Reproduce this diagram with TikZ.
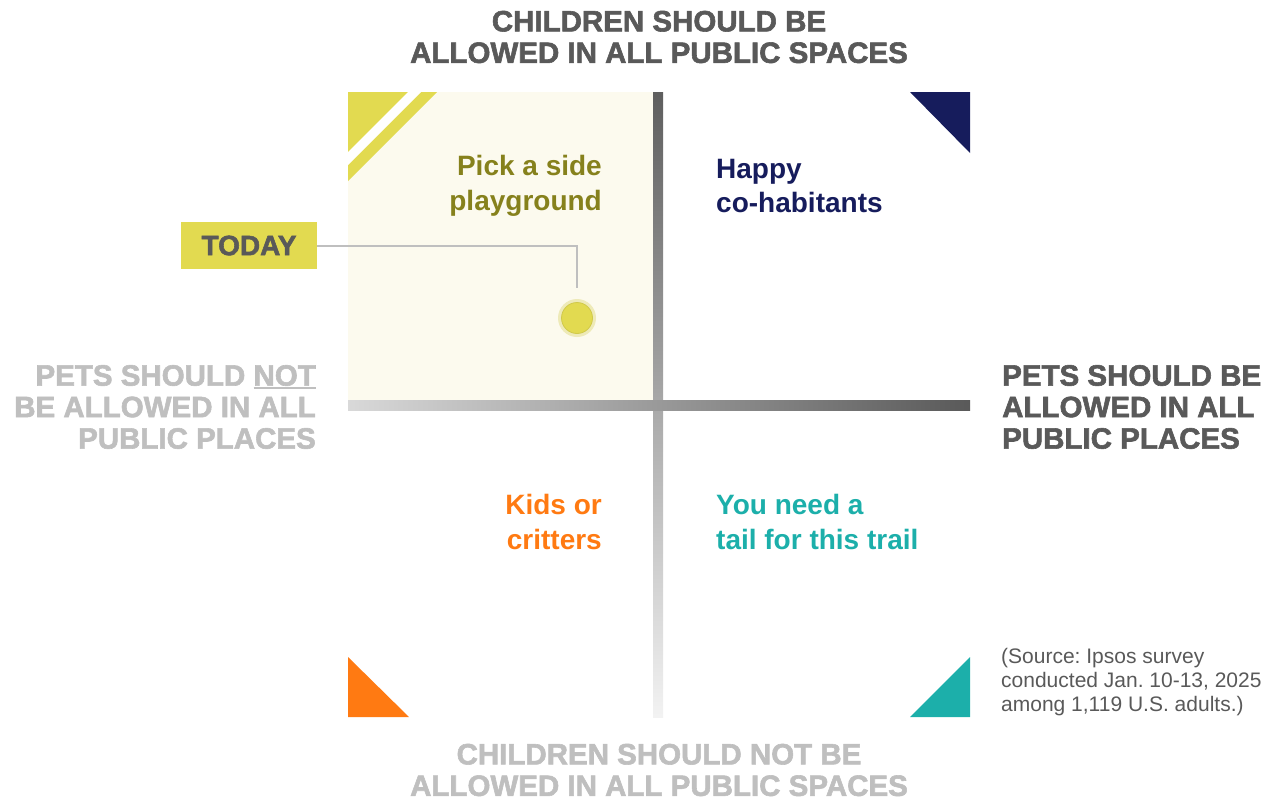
\documentclass[tikz,border=0pt]{standalone}
\usepackage{fontspec}
\setmainfont{Liberation Sans}
\newfontfamily\heavyfont{Liberation Sans Bold}[FakeBold=2]
\definecolor{txtdark}{HTML}{595959}
\definecolor{txtlight}{HTML}{BFBFBF}
\definecolor{cream}{HTML}{FCFAEE}
\definecolor{lemon}{HTML}{E2DA50}
\definecolor{lemonhalo}{HTML}{EEEAB8}
\definecolor{olive}{HTML}{86811C}
\definecolor{navy}{HTML}{161C5C}
\definecolor{tangerine}{HTML}{FF7A12}
\definecolor{teal}{HTML}{1CAFAA}
% underline with a heavier rule
\newcommand\heavyul[1]{\leavevmode\setbox0\hbox{#1}\rlap{\raisebox{-3.5pt}{\rule{\wd0}{2pt}}}\box0}
\begin{document}
\begin{tikzpicture}[x=1pt,y=-1pt,
  axislabel/.style={font=\heavyfont\fontsize{29.5}{31.5}\selectfont, inner sep=0},
  quadlabel/.style={font=\bfseries\fontsize{28}{34.5}\selectfont, inner sep=0}]
\useasboundingbox (0,0) rectangle (1269,798);

% highlighted quadrant
\fill[cream] (348,92) rectangle (653,400);

% axes
\shade[top color=black!63, middle color=black!20, bottom color=black!5] (653,92) rectangle (663,717);
\shade[left color=black!15, middle color=black!31, right color=black!65] (348,400) rectangle (970,410);

% corner markers
\fill[lemon] (348,92) -- (437,92) -- (348,181) -- cycle;
\fill[white] (408,92) -- (421,92) -- (348,165) -- (348,152) -- cycle;
\fill[navy] (910,92) -- (970,92) -- (970,153) -- cycle;
\fill[tangerine] (348,657) -- (409,717) -- (348,717) -- cycle;
\fill[teal] (970,657) -- (970,717) -- (910,717) -- cycle;

% axis labels
\node[axislabel, text=txtdark, align=center] (top) at (659,37) {CHILDREN SHOULD BE\\ALLOWED IN ALL PUBLIC SPACES};
\node[axislabel, text=txtlight, align=center] (bottom) at (659,770) {CHILDREN SHOULD NOT BE\\ALLOWED IN ALL PUBLIC SPACES};
\node[axislabel, text=txtdark, align=left, anchor=west] (right) at (1002,407) {PETS SHOULD BE\\ALLOWED IN ALL\\PUBLIC PLACES};
\node[axislabel, text=txtlight, align=right, anchor=east] (left) at (316,407) {PETS SHOULD \heavyul{NOT}\\BE ALLOWED IN ALL\\PUBLIC PLACES};

% quadrant labels
\node[quadlabel, text=olive, align=right, anchor=east] (q1) at (602,186) {Pick a side\\playground};
\node[quadlabel, text=navy, align=left, anchor=west] (q2) at (716,186) {Happy\\co-habitants};
\node[quadlabel, text=tangerine, align=right, anchor=east] (q3) at (602,522) {Kids or\\critters};
\node[quadlabel, text=teal, align=left, anchor=west] (q4) at (716,522) {You need a\\tail for this trail};

% current position
\node[circle, fill=lemonhalo, minimum size=38pt, inner sep=0] (halo) at (577,318) {};
\node[circle, fill=lemon, draw=lemon!92!black, line width=0.8pt, minimum size=31pt, inner sep=0] (dot) at (577,318) {};
\node[fill=lemon, minimum width=136pt, minimum height=47.5pt, inner sep=0,
      font=\heavyfont\fontsize{28}{30}\selectfont, text=txtdark] (today) at (249,245.5) {TODAY};
\draw[txtlight, line width=2pt] (today.east) -| ([yshift=11pt]halo.north);

% source note
\node[font=\frenchspacing\fontsize{21}{24}\selectfont, text=txtdark, align=left, anchor=west, inner sep=0] (source) at (1001,682)
  {(Source: Ipsos survey\\conducted Jan. 10-13, 2025\\among 1,119 U.S. adults.)};
\end{tikzpicture}
\end{document}
